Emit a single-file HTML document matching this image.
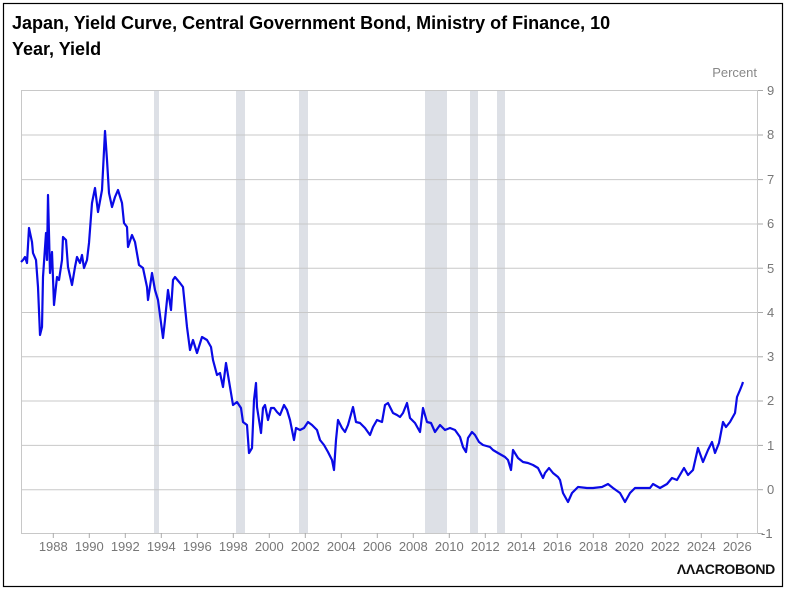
<!DOCTYPE html>
<html><head><meta charset="utf-8"><style>
body{margin:0;background:#fff;}
svg{display:block;font-family:"Liberation Sans",Arial,sans-serif;}
</style></head><body>
<svg width="786" height="590" viewBox="0 0 786 590" xmlns="http://www.w3.org/2000/svg">
<rect x="3.5" y="3.5" width="779" height="583" fill="#fff" stroke="#000" stroke-width="1.2"/>
<text x="12" y="29" font-size="18" font-weight="bold" fill="#000">Japan, Yield Curve, Central Government Bond, Ministry of Finance, 10</text>
<text x="12" y="55" font-size="18" font-weight="bold" fill="#000">Year, Yield</text>
<text x="757" y="77" font-size="13" fill="#888" text-anchor="end">Percent</text>
<g fill="#dde0e6">
<rect x="154" y="90" width="5" height="443"/>
<rect x="236" y="90" width="9" height="443"/>
<rect x="299" y="90" width="9" height="443"/>
<rect x="425" y="90" width="22" height="443"/>
<rect x="470" y="90" width="8" height="443"/>
<rect x="497" y="90" width="8" height="443"/>
</g>
<g stroke="#c8c8c8" stroke-width="1">
<line x1="21" y1="90.5" x2="758" y2="90.5"/>
<line x1="21" y1="135" x2="758" y2="135"/>
<line x1="21" y1="179.6" x2="758" y2="179.6"/>
<line x1="21" y1="224" x2="758" y2="224"/>
<line x1="21" y1="268.2" x2="758" y2="268.2"/>
<line x1="21" y1="312.5" x2="758" y2="312.5"/>
<line x1="21" y1="356.8" x2="758" y2="356.8"/>
<line x1="21" y1="401" x2="758" y2="401"/>
<line x1="21" y1="445.4" x2="758" y2="445.4"/>
<line x1="21" y1="489.7" x2="758" y2="489.7"/>
<line x1="21.5" y1="90" x2="21.5" y2="533"/>
<line x1="21" y1="533.5" x2="758" y2="533.5"/>
<line x1="757.5" y1="90" x2="757.5" y2="534"/>
</g>
<g stroke="#aaa" stroke-width="1">
<line x1="758" y1="90.5" x2="763" y2="90.5"/><line x1="758" y1="135" x2="763" y2="135"/>
<line x1="758" y1="179.6" x2="763" y2="179.6"/><line x1="758" y1="224" x2="763" y2="224"/>
<line x1="758" y1="268.2" x2="763" y2="268.2"/><line x1="758" y1="312.5" x2="763" y2="312.5"/>
<line x1="758" y1="356.8" x2="763" y2="356.8"/><line x1="758" y1="401" x2="763" y2="401"/>
<line x1="758" y1="445.4" x2="763" y2="445.4"/><line x1="758" y1="489.7" x2="763" y2="489.7"/>
<line x1="758" y1="533.5" x2="763" y2="533.5"/>
<line x1="53.3" y1="533" x2="53.3" y2="538"/><line x1="89.3" y1="533" x2="89.3" y2="538"/>
<line x1="125.3" y1="533" x2="125.3" y2="538"/><line x1="161.3" y1="533" x2="161.3" y2="538"/>
<line x1="197.3" y1="533" x2="197.3" y2="538"/><line x1="233.3" y1="533" x2="233.3" y2="538"/>
<line x1="269.3" y1="533" x2="269.3" y2="538"/><line x1="305.3" y1="533" x2="305.3" y2="538"/>
<line x1="341.3" y1="533" x2="341.3" y2="538"/><line x1="377.3" y1="533" x2="377.3" y2="538"/>
<line x1="413.3" y1="533" x2="413.3" y2="538"/><line x1="449.3" y1="533" x2="449.3" y2="538"/>
<line x1="485.3" y1="533" x2="485.3" y2="538"/><line x1="521.3" y1="533" x2="521.3" y2="538"/>
<line x1="557.3" y1="533" x2="557.3" y2="538"/><line x1="593.3" y1="533" x2="593.3" y2="538"/>
<line x1="629.3" y1="533" x2="629.3" y2="538"/><line x1="665.3" y1="533" x2="665.3" y2="538"/>
<line x1="701.3" y1="533" x2="701.3" y2="538"/><line x1="737.3" y1="533" x2="737.3" y2="538"/>
</g>
<g font-size="13" fill="#777">
<text x="767" y="95">9</text><text x="767" y="139">8</text><text x="767" y="184">7</text>
<text x="767" y="228">6</text><text x="767" y="273">5</text><text x="767" y="317">4</text>
<text x="767" y="361">3</text><text x="767" y="405">2</text><text x="767" y="450">1</text>
<text x="767" y="494">0</text><text x="761" y="538">-1</text>
</g>
<g font-size="13" fill="#777" text-anchor="middle">
<text x="53.3" y="551">1988</text><text x="89.3" y="551">1990</text><text x="125.3" y="551">1992</text>
<text x="161.3" y="551">1994</text><text x="197.3" y="551">1996</text><text x="233.3" y="551">1998</text>
<text x="269.3" y="551">2000</text><text x="305.3" y="551">2002</text><text x="341.3" y="551">2004</text>
<text x="377.3" y="551">2006</text><text x="413.3" y="551">2008</text><text x="449.3" y="551">2010</text>
<text x="485.3" y="551">2012</text><text x="521.3" y="551">2014</text><text x="557.3" y="551">2016</text>
<text x="593.3" y="551">2018</text><text x="629.3" y="551">2020</text><text x="665.3" y="551">2022</text>
<text x="701.3" y="551">2024</text><text x="737.3" y="551">2026</text>
</g>
<polyline fill="none" stroke="#0a0ae6" stroke-width="2.2" stroke-linejoin="round" points="21,262 23,260 25,257 27,263 29,228 32,242 33,253 36,260 38,287 40,335 42,327 43,277 46,233 47,260 48,195 50,273 52,252 54,305 57,277 59,280 62,260 63,237 66,240 68,267 72,285 75,267 77,257 80,263 82,255 84,268 87,260 89,243 92,203 95,188 98,212 102,190 105,131 107,160 109,193 112,207 115,197 118,190 122,203 124,223 127,227 128,247 132,235 135,242 139,265 143,268 147,287 148,300 152,273 155,290 158,300 163,338 165,320 168,290 171,310 173,280 175,277 180,283 183,287 187,327 190,350 193,340 197,353 202,337 207,340 211,347 213,360 217,375 220,373 223,387 226,363 230,387 233,405 237,402 241,408 243,422 247,425 249,453 252,448 254,400 256,383 257,407 261,433 263,408 265,405 268,420 271,408 274,408 277,412 280,415 284,405 287,410 290,420 294,440 296,428 300,430 304,428 308,422 312,425 317,430 320,440 324,445 328,452 332,460 334,470 336,440 338,420 342,428 345,432 348,425 353,407 356,422 360,423 365,428 370,435 373,427 377,420 382,422 385,405 388,403 393,413 397,415 400,417 403,413 407,403 410,418 415,423 420,432 423,408 427,422 431,423 435,432 440,425 445,430 450,428 455,430 460,437 463,447 466,452 468,438 472,432 475,435 479,442 483,445 490,447 493,450 498,453 505,457 508,460 511,470 513,450 518,458 523,462 528,463 533,465 538,468 543,478 545,473 549,468 553,473 558,477 560,480 563,493 568,502 572,493 578,487 587,488 593,488 602,487 608,484 613,488 620,493 625,502 630,493 635,488 643,488 650,488 653,484 660,488 667,484 672,478 677,480 684,468 688,475 693,470 698,448 703,462 708,450 712,442 715,453 719,443 723,422 726,427 730,422 735,413 737,397 740,390 742,385 743,382"/>
<text x="775" y="574" font-size="14" font-weight="bold" fill="#111" text-anchor="end" letter-spacing="-0.3">ΛΛACROBOND</text>
</svg>
</body></html>
